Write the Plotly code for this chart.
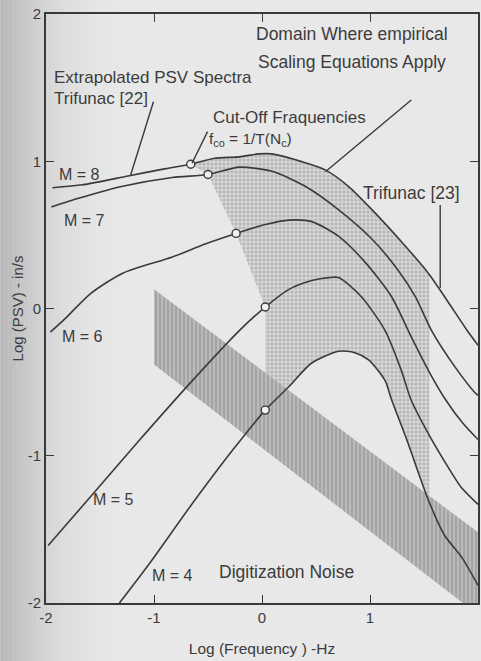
import numpy as np
import plotly.graph_objects as go

# ---------------- data ----------------
M8_x = [-1.94, -1.66, -1.24, -0.89, -0.66, -0.44, -0.21, -0.03, 0.09, 0.40, 0.59, 0.80, 1.02, 1.32, 1.54, 1.70, 1.91, 2.0]
M8_y = [0.82, 0.84, 0.90, 0.95, 0.98, 1.02, 1.03, 1.05, 1.05, 0.99, 0.94, 0.83, 0.67, 0.43, 0.24, 0.07, -0.16, -0.25]

M7_x = [-1.95, -1.69, -1.29, -0.83, -0.50, -0.21, 0.10, 0.40, 0.71, 1.02, 1.26, 1.42, 1.57, 1.79, 1.97, 2.0]
M7_y = [0.69, 0.75, 0.83, 0.89, 0.91, 0.96, 0.93, 0.83, 0.67, 0.47, 0.26, 0.08, -0.15, -0.40, -0.57, -0.59]

M6_x = [-1.96, -1.81, -1.59, -1.29, -0.83, -0.52, -0.24, 0.03, 0.25, 0.46, 0.71, 0.96, 1.20, 1.38, 1.54, 1.70, 1.86, 2.0]
M6_y = [-0.16, -0.06, 0.10, 0.24, 0.35, 0.44, 0.51, 0.57, 0.60, 0.59, 0.49, 0.31, 0.08, -0.19, -0.42, -0.62, -0.78, -0.89]

M5_x = [-1.98, -1.59, -1.13, -0.67, -0.21, 0.03, 0.25, 0.46, 0.62, 0.71, 0.92, 1.14, 1.29, 1.38, 1.54, 1.70, 1.84, 2.0]
M5_y = [-1.61, -1.28, -0.89, -0.51, -0.15, 0.01, 0.13, 0.19, 0.21, 0.21, 0.08, -0.15, -0.42, -0.62, -0.85, -1.05, -1.21, -1.33]

M4_x = [-1.32, -1.04, -0.67, -0.27, 0.03, 0.25, 0.46, 0.71, 0.86, 0.99, 1.14, 1.20, 1.34, 1.54, 1.69, 1.85, 2.0]
M4_y = [-2.0, -1.73, -1.35, -0.96, -0.69, -0.53, -0.37, -0.29, -0.30, -0.35, -0.49, -0.62, -0.89, -1.30, -1.54, -1.69, -1.88]

magnitudes = [8, 7, 6, 5, 4]
curves_x = {8: M8_x, 7: M7_x, 6: M6_x, 5: M5_x, 4: M4_x}
curves_y = {8: M8_y, 7: M7_y, 6: M6_y, 5: M5_y, 4: M4_y}

# cut-off frequencies log10(f_co) for each magnitude
cutoff_logf = {8: -0.66, 7: -0.50, 6: -0.24, 5: 0.03, 4: 0.03}
# upper log-frequency limit of the empirical-scaling domain
domain_max_logf = 1.55

# digitization noise band (corners, log f / log PSV)
noise_x = [-1.0, 2.0, 2.0, 1.86, -1.0]
noise_y = [0.13, -1.52, -2.0, -2.0, -0.38]

x_ticks = [-2, -1, 0, 1, 2]
y_ticks = [-2, -1, 0, 1, 2]

# labels: text, log f, log PSV
curve_labels = [("M = 8", -1.90, 0.91), ("M = 7", -1.85, 0.60), ("M = 6", -1.87, -0.19),
                ("M = 5", -1.58, -1.30), ("M = 4", -1.04, -1.81)]

# text, log f, log PSV, font size
texts = [
    ("Domain Where empirical", -0.075, 1.865, 17.5),
    ("Scaling Equations Apply", -0.055, 1.675, 17.5),
    ("Extrapolated PSV Spectra", -1.94, 1.57, 17),
    ("Trifunac [22]", -1.94, 1.425, 17),
    ("Cut-Off Fraquencies", -0.475, 1.295, 17),
    ("f<sub>co</sub> = 1/T(N<sub>c</sub>)", -0.51, 1.145, 15.5),
    ("Trifunac [23]", 0.915, 0.785, 17.5),
    ("Digitization Noise", -0.42, -1.79, 17.5),
]

# leader lines: from (x0, y0) to (x1, y1)
leaders = [
    (-1.005, 1.404, -1.219, 0.900),
    (-0.504, 1.201, -0.648, 0.986),
    (1.382, 1.416, 0.587, 0.929),
    (1.650, 0.703, 1.650, 0.139),
]

LINE = "#3a3a3a"
TXT = "#3c3c3c"
FONT = "Arial, Liberation Sans, sans-serif"


def on_curve(m, xq):
    return float(np.interp(xq, curves_x[m], curves_y[m]))


fig = go.Figure()

# ---- domain where empirical scaling equations apply ----
dx, dy = [], []
c8 = cutoff_logf[8]
dx.append(c8); dy.append(on_curve(8, c8))
for x, y in zip(M8_x, M8_y):
    if c8 < x < domain_max_logf:
        dx.append(x); dy.append(y)
dx.append(domain_max_logf); dy.append(on_curve(8, domain_max_logf))
dx.append(domain_max_logf); dy.append(on_curve(4, domain_max_logf))
c4 = cutoff_logf[4]
for x, y in reversed(list(zip(M4_x, M4_y))):
    if c4 < x < domain_max_logf:
        dx.append(x); dy.append(y)
for m in [4, 5, 6, 7, 8]:
    dx.append(cutoff_logf[m]); dy.append(on_curve(m, cutoff_logf[m]))

fig.add_trace(go.Scatter(
    x=dx, y=dy, mode="lines", fill="toself", line=dict(width=0),
    fillcolor="#d2d2d2",
    fillpattern=dict(shape=".", size=4, solidity=0.45, fgcolor="#969696", bgcolor="#d6d6d6"),
    hoverinfo="skip", showlegend=False))

# ---- digitization noise band ----
fig.add_trace(go.Scatter(
    x=noise_x, y=noise_y, mode="lines", fill="toself", line=dict(width=0),
    fillcolor="#b0b0b0",
    fillpattern=dict(shape="|", size=4, solidity=0.45, fgcolor="#888888", bgcolor="#bababa"),
    hoverinfo="skip", showlegend=False))

# ---- PSV spectra curves ----
for m in magnitudes:
    fig.add_trace(go.Scatter(x=curves_x[m], y=curves_y[m], mode="lines",
                             line=dict(color=LINE, width=1.6, shape="spline", smoothing=0.7),
                             hoverinfo="skip", showlegend=False))

# ---- cut-off frequency markers ----
fig.add_trace(go.Scatter(
    x=[cutoff_logf[m] for m in magnitudes],
    y=[on_curve(m, cutoff_logf[m]) for m in magnitudes],
    mode="markers",
    marker=dict(symbol="circle", size=8, color="#f2f2f2", line=dict(color=LINE, width=1.4)),
    hoverinfo="skip", showlegend=False))

# ---- background scan shading on the left (styling only) ----
shapes = []
n_strips = 30
for i in range(n_strips):
    p0 = i * 4.0
    p1 = p0 + 4.0
    t = i / (n_strips - 1)
    g = int(round(184 + (231 - 184) * (1 - (1 - t) ** 2)))
    shapes.append(dict(type="rect", xref="paper", yref="paper",
                       x0=(p0 - 46) / 434, x1=(p1 - 46) / 434 + 0.001,
                       y0=-58 / 589, y1=1 + 14 / 589,
                       fillcolor=f"rgb({g},{g},{g})", line=dict(width=0), layer="below"))

for x0, y0, x1, y1 in leaders:
    shapes.append(dict(type="line", xref="x", yref="y", x0=x0, y0=y0, x1=x1, y1=y1,
                       line=dict(color=LINE, width=1.4)))

annotations = []
for text, x, y in curve_labels:
    annotations.append(dict(x=x, y=y, text=text, showarrow=False, xanchor="left", yanchor="middle",
                            font=dict(size=16, color=TXT, family=FONT)))
for text, x, y, s in texts:
    annotations.append(dict(x=x, y=y, text=text, showarrow=False, xanchor="left", yanchor="middle",
                            font=dict(size=s, color=TXT, family=FONT)))

axis_common = dict(showgrid=False, zeroline=False, showline=True, linecolor=LINE, linewidth=1.6,
                   mirror="allticks", ticks="inside", ticklen=8, tickwidth=1.4, tickcolor=LINE,
                   tickfont=dict(size=15, color=TXT, family=FONT))

fig.update_layout(
    width=481, height=661,
    margin=dict(l=46, r=1, t=14, b=58),
    paper_bgcolor="#e8e8e8", plot_bgcolor="rgba(0,0,0,0)",
    xaxis=dict(range=[-2, 2], tickvals=x_ticks, ticktext=[str(v) for v in x_ticks],
               title=dict(text="Log (Frequency ) -Hz", font=dict(size=15.5, color=TXT, family=FONT), standoff=18),
               **axis_common),
    yaxis=dict(range=[-2, 2], tickvals=y_ticks, ticktext=[str(v) for v in y_ticks],
               title=dict(text="Log (PSV) - in/s", font=dict(size=15, color=TXT, family=FONT), standoff=1),
               **axis_common),
    shapes=shapes,
    annotations=annotations,
)

fig.write_html("out.html")
